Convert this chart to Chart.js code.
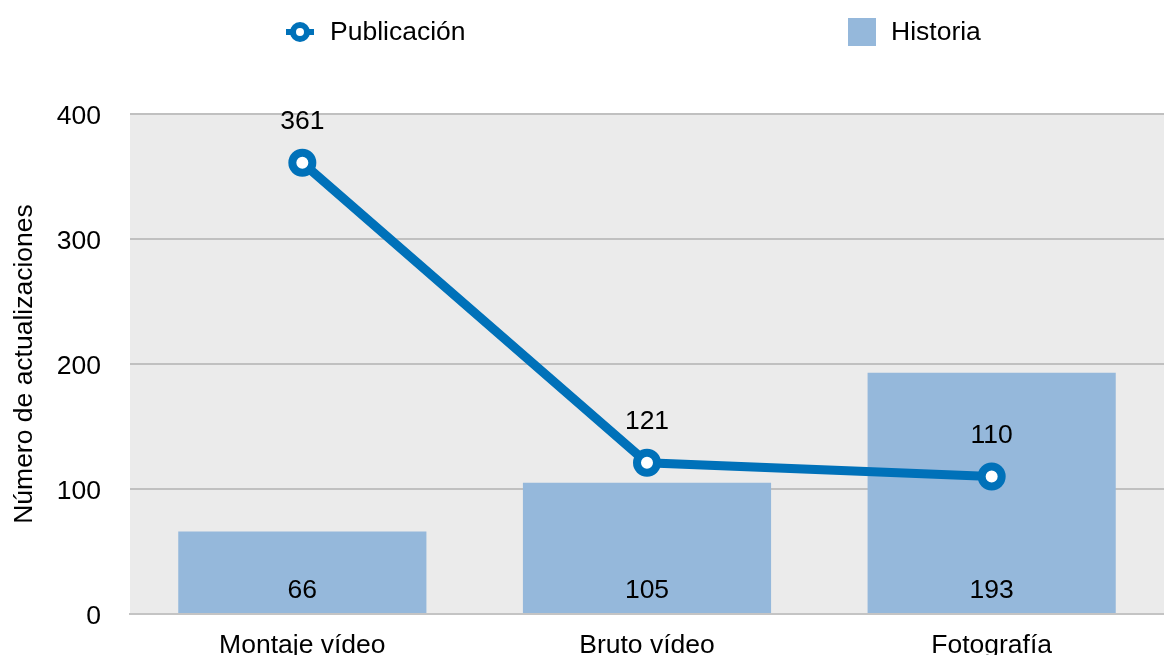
<!DOCTYPE html>
<html>
<head>
<meta charset="utf-8">
<script src="https://cdn.jsdelivr.net/npm/chart.js@4/dist/chart.umd.min.js"></script>
<style>
	html, body { margin: 0; padding: 0; background: #fff; overflow: hidden; }
	#wrap { width: 1164px; height: 655px; }
	canvas { display: block; }
</style>
</head>
<body>
<div id="wrap"><canvas id="c" width="1164" height="655"></canvas></div>
<script>
var categories = ["Montaje vídeo", "Bruto vídeo", "Fotografía"];
var publicacion = [361, 121, 110];
var historia = [66, 105, 193];
var yTicks = [0, 100, 200, 300, 400];

var FONT = "'Liberation Sans', Arial, Helvetica, sans-serif";
var BLUE = "#0071b9";
var BAR = "#95b8db";

// fondo gris del área del gráfico
var bgPlugin = {
	id: "bg",
	beforeDraw: function(chart) {
		var a = chart.chartArea, ctx = chart.ctx;
		ctx.save();
		ctx.fillStyle = "#ebebeb";
		ctx.fillRect(a.left, a.top, a.right - a.left, a.bottom - a.top);
		ctx.restore();
	}
};

// leyenda y etiquetas de valores
var labelPlugin = {
	id: "labels",
	afterDatasetsDraw: function(chart) {
		var ctx = chart.ctx;
		ctx.save();
		ctx.font = "26.5px " + FONT;
		ctx.fillStyle = "#000";
		ctx.textAlign = "center";
		ctx.textBaseline = "middle";

		var line = chart.getDatasetMeta(0);
		line.data.forEach(function(p, i) {
			ctx.fillText(publicacion[i], p.x, p.y - 41);
		});
		var bars = chart.getDatasetMeta(1);
		bars.data.forEach(function(b, i) {
			ctx.fillText(historia[i], b.x, chart.chartArea.bottom - 23);
		});

		// leyenda
		ctx.strokeStyle = BLUE;
		ctx.lineWidth = 6;
		ctx.beginPath(); ctx.moveTo(286, 32); ctx.lineTo(314, 32); ctx.stroke();
		ctx.beginPath(); ctx.arc(300, 32, 7, 0, Math.PI * 2);
		ctx.fillStyle = "#fff"; ctx.fill(); ctx.stroke();
		ctx.fillStyle = BAR;
		ctx.fillRect(848, 18, 28, 28);
		ctx.fillStyle = "#000";
		ctx.textAlign = "left";
		ctx.fillText("Publicación", 330, 33);
		ctx.fillText("Historia", 891, 33);
		ctx.restore();
	}
};

var config = {
	data: {
		labels: categories,
		datasets: [
			{
				type: "line",
				label: "Publicación",
				data: publicacion,
				borderColor: BLUE,
				borderWidth: 9,
				pointRadius: 10,
				pointHoverRadius: 10,
				pointBorderWidth: 8,
				pointBackgroundColor: "#fff",
				pointBorderColor: BLUE,
				order: 0
			},
			{
				type: "bar",
				label: "Historia",
				data: historia,
				backgroundColor: BAR,
				barPercentage: 0.72,
				categoryPercentage: 1,
				order: 1
			}
		]
	},
	options: {
		responsive: false,
		animation: false,
		layout: { autoPadding: false, padding: { top: 114, right: 0, left: 0, bottom: 0 } },
		plugins: {
			legend: { display: false },
			tooltip: { enabled: false }
		},
		scales: {
			x: {
				grid: { display: false },
				border: { color: "#c4c4c4", width: 2 },
				ticks: { color: "#000", font: { size: 26.5, family: FONT }, padding: 8, maxRotation: 0 },
				afterFit: function(s) { s.height = 41; }
			},
			y: {
				min: 0, max: 400,
				afterBuildTicks: function(s) { s.ticks = yTicks.map(function(v) { return { value: v }; }); },
				grid: { color: "#c0c0c0", lineWidth: 2, drawTicks: false },
				border: { display: false },
				ticks: { color: "#000", font: { size: 26.5, family: FONT }, padding: 29, labelOffset: 3 },
				title: {
					display: true,
					text: "Número de actualizaciones",
					color: "#000",
					font: { size: 26.5, family: FONT },
					padding: { top: 9, bottom: 0 }
				},
				afterFit: function(s) { s.width = 130; s.paddingTop = 0; s.paddingBottom = 0; }
			}
		}
	},
	plugins: [bgPlugin, labelPlugin]
};

new Chart(document.getElementById("c"), config);
</script>
</body>
</html>
